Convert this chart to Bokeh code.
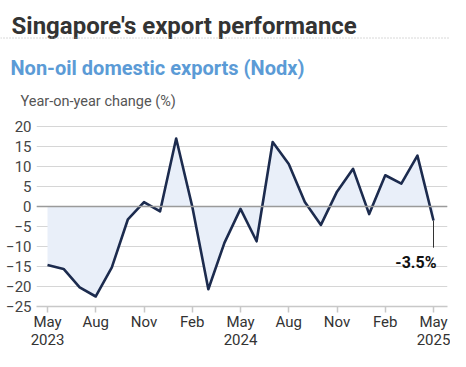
from bokeh.plotting import figure
from bokeh.layouts import column
from bokeh.models import Label, Span, FixedTicker, Range1d
from bokeh.core.properties import value
from bokeh.embed import file_html
from bokeh.resources import INLINE

# ---- data ----
months = list(range(25))  # May 2023 .. May 2025
nodx = [-14.6, -15.6, -20.2, -22.5, -15.2, -3.2, 1.1, -1.2, 17.0, 0.0, -20.7, -9.1,
        -0.6, -8.7, 16.1, 10.6, 1.1, -4.6, 3.7, 9.4, -1.9, 7.8, 5.7, 12.7, -3.5]
tick_pos = [0, 3, 6, 9, 12, 15, 18, 21, 24]
tick_labels = ["May\n2023", "Aug", "Nov", "Feb", "May\n2024", "Aug", "Nov", "Feb", "May\n2025"]
y_ticks = [-25, -20, -15, -10, -5, 0, 5, 10, 15, 20]

title_text = "Singapore's export performance"
subtitle_text = "Non-oil domestic exports (Nodx)"
ylabel_text = "Year-on-year change (%)"

FONT = "Roboto"
W = 450
HH = 112          # header height
H = 351 - HH      # chart height

# ---- header (titles) ----
hdr = figure(width=W, height=HH, output_backend="svg", toolbar_location=None, title=None,
             x_range=Range1d(0, W), y_range=Range1d(HH, 0), min_border=0,
             x_axis_location=None, y_axis_location=None)
hdr.outline_line_color = None
hdr.grid.visible = False
hdr.text(x=[11], y=[25], text=[title_text], text_font=value(FONT), text_font_size="24px",
         text_font_style="bold", text_color="#333333", text_baseline="alphabetic")
hdr.segment(x0=[0], y0=[37.5], x1=[W], y1=[37.5], line_color="#b0b0b0", line_width=1,
            line_dash="1 2")
hdr.text(x=[10], y=[67], text=[subtitle_text], text_font=value(FONT), text_font_size="20px",
         text_font_style="bold", text_color="#5b9bd6", text_baseline="alphabetic")
hdr.text(x=[20], y=[101], text=[ylabel_text], text_font=value(FONT), text_font_size="14.5px",
         text_color="#555555", text_baseline="alphabetic")

# ---- chart ----
p = figure(width=W, height=H, output_backend="svg", toolbar_location=None, title=None,
           x_range=Range1d(-0.684, 24.87), y_range=Range1d(-25, 20.49),
           min_border_left=36, min_border_right=3, min_border_top=12, min_border_bottom=40)
p.outline_line_color = None
for fig in (hdr, p):
    try:
        fig.frame_align = False
    except Exception:
        pass

p.varea(x=months, y1=0, y2=nodx, fill_color="#e9eff9", fill_alpha=1.0)
p.add_layout(Span(location=0, dimension="width", line_color="#9a9a9a", line_width=1.3))
p.line(months, nodx, line_color="#1c2b4e", line_width=2.6, line_join="round")

last_x, last_y = months[-1], nodx[-1]
p.segment(x0=[last_x], y0=[last_y], x1=[last_x], y1=[-10.3], line_color="#333333", line_width=1)
p.add_layout(Label(x=last_x, y=-13.9, text=f"{last_y:.1f}%", text_align="right",
                   text_baseline="alphabetic", x_offset=3, text_font=FONT,
                   text_font_size="16px", text_font_style="bold", text_color="#111111"))

p.xaxis.ticker = FixedTicker(ticks=tick_pos)
p.xaxis.major_label_overrides = {t: l for t, l in zip(tick_pos, tick_labels)}
p.xaxis.major_label_text_font = FONT
p.xaxis.major_label_text_font_size = "15px"
p.xaxis.major_label_text_color = "#333333"
p.xaxis.major_label_text_line_height = 1.0
p.xaxis.axis_line_color = "#c8c8c8"
p.xaxis.axis_line_width = 1.5
p.xaxis.major_tick_line_color = "#c8c8c8"
p.xaxis.major_tick_line_width = 1.5
p.xaxis.major_tick_out = 6
p.xaxis.major_tick_in = 0
p.xaxis.minor_tick_line_color = None
p.xaxis.minor_tick_out = 0
p.xaxis.major_label_standoff = 0

p.yaxis.ticker = FixedTicker(ticks=y_ticks)
p.yaxis.axis_line_color = None
p.yaxis.major_tick_line_color = None
p.yaxis.minor_tick_line_color = None
p.yaxis.major_tick_out = 0
p.yaxis.minor_tick_out = 0
p.yaxis.major_label_text_font = FONT
p.yaxis.major_label_text_font_size = "15px"
p.yaxis.major_label_text_color = "#444444"
p.yaxis.major_label_standoff = 5

p.xgrid.grid_line_color = None
p.ygrid.grid_line_color = "#d6d6d6"
p.ygrid.grid_line_width = 1.2

layout = column(hdr, p, spacing=0)
open("out.html", "w").write(file_html(layout, INLINE))
